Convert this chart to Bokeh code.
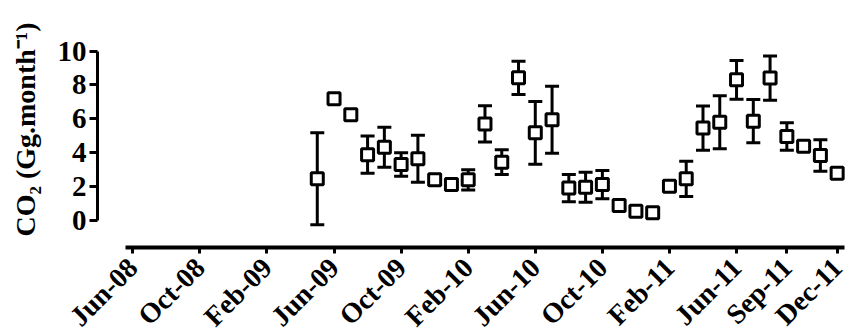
import math
from bokeh.plotting import figure
from bokeh.models import ColumnDataSource, Whisker, TeeHead, FixedTicker
from bokeh.embed import file_html
from bokeh.resources import INLINE

# ---- data ----
months = ["2009-05", "2009-06", "2009-07", "2009-08", "2009-09", "2009-10", "2009-11", "2009-12",
          "2010-01", "2010-02", "2010-03", "2010-04", "2010-05", "2010-06", "2010-07", "2010-08",
          "2010-09", "2010-10", "2010-11", "2010-12", "2011-01", "2011-02", "2011-03", "2011-04",
          "2011-05", "2011-06", "2011-07", "2011-08", "2011-09", "2011-10", "2011-11", "2011-12"]
co2 = [2.46, 7.18, 6.24, 3.88, 4.32, 3.30, 3.64, 2.40,
       2.12, 2.40, 5.70, 3.44, 8.42, 5.17, 5.94, 1.91,
       1.96, 2.12, 0.88, 0.55, 0.45, 2.02, 2.46, 5.45,
       5.80, 8.30, 5.86, 8.40, 4.96, 4.38, 3.83, 2.79]
err = [2.71, 0.0, 0.0, 1.10, 1.18, 0.69, 1.39, 0.0,
       0.0, 0.60, 1.07, 0.73, 0.98, 1.85, 1.98, 0.81,
       0.88, 0.83, 0.0, 0.0, 0.0, 0.0, 1.04, 1.30,
       1.56, 1.14, 1.28, 1.30, 0.81, 0.0, 0.93, 0.0]
tick_labels = ["Jun-08", "Oct-08", "Feb-09", "Jun-09", "Oct-09", "Feb-10",
               "Jun-10", "Oct-10", "Feb-11", "Jun-11", "Sep-11", "Dec-11"]
tick_months = ["2008-06", "2008-10", "2009-02", "2009-06", "2009-10", "2010-02",
               "2010-06", "2010-10", "2011-02", "2011-06", "2011-09", "2011-12"]
y_ticks = [0, 2, 4, 6, 8, 10]
y_title = "CO\u2082 (Gg.month\u207b\u00b9)"


def month_index(s):
    y, m = s.split("-")
    return (int(y) - 2008) * 12 + (int(m) - 6)


x = [month_index(m) for m in months]
tx = [month_index(m) for m in tick_months]

src = ColumnDataSource(dict(x=x, y=co2))
ex = [xi for xi, e in zip(x, err) if e > 0]
eu = [v + e for v, e in zip(co2, err) if e > 0]
el = [v - e for v, e in zip(co2, err) if e > 0]
esrc = ColumnDataSource(dict(x=ex, upper=eu, lower=el))

FONT = "Liberation Serif"

p = figure(width=865, height=331, output_backend="svg", toolbar_location=None,
           x_range=(-5.146, 42.915), y_range=(-6.55, 10.62),
           min_border_left=46, min_border_right=13, min_border_top=40, min_border_bottom=0,
           title=y_title, title_location="left")
p.outline_line_color = None
p.xgrid.visible = False
p.ygrid.visible = False
p.background_fill_color = "white"
p.border_fill_color = "white"

p.title.align = "left"
p.title.offset = 95
p.title.text_font = FONT
p.title.text_font_style = "bold"
p.title.text_font_size = "28px"
p.title.text_color = "black"
p.title.standoff = 12

# y axis
ya = p.yaxis[0]
ya.fixed_location = -2.105
ya.bounds = (0, 10)
ya.ticker = FixedTicker(ticks=y_ticks)
ya.axis_line_width = 3
ya.major_tick_line_width = 3
ya.major_tick_out = 8
ya.major_tick_in = 0
ya.minor_tick_line_color = None
ya.major_label_text_font = FONT
ya.major_label_text_font_style = "bold"
ya.major_label_text_font_size = "29px"
ya.major_label_text_color = "black"
ya.major_label_standoff = 3

# x axis
xa = p.xaxis[0]
xa.fixed_location = -1.62
xa.bounds = (-0.43, 42.42)
xa.ticker = FixedTicker(ticks=tx)
xa.major_label_overrides = {t: l for t, l in zip(tx, tick_labels)}
xa.axis_line_width = 4
xa.major_tick_line_width = 3
xa.major_tick_out = 6
xa.major_tick_in = 0
xa.minor_tick_line_color = None
xa.major_label_text_font = FONT
xa.major_label_text_font_style = "bold"
xa.major_label_text_font_size = "28px"
xa.major_label_text_color = "black"
xa.major_label_orientation = math.pi / 4
xa.major_label_standoff = 9

# error bars
wh = Whisker(source=esrc, base="x", upper="upper", lower="lower",
             line_width=3, line_color="black",
             upper_head=TeeHead(size=14, line_width=3, line_color="black"),
             lower_head=TeeHead(size=14, line_width=3, line_color="black"))
p.add_layout(wh)

p.scatter("x", "y", source=src, marker="square", size=12, line_width=3,
          line_color="black", fill_color="white")

open("out.html", "w").write(file_html(p, INLINE))
